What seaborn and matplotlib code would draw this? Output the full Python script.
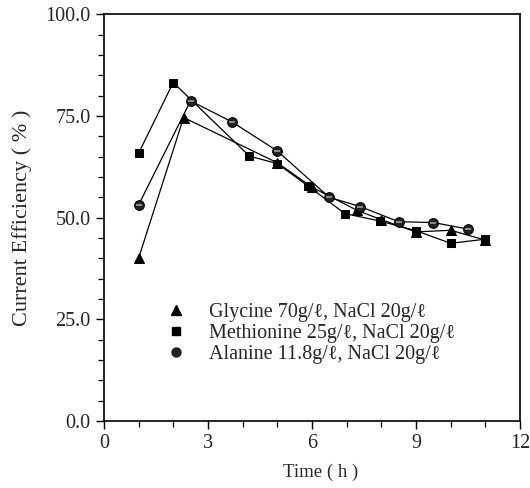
import matplotlib
matplotlib.use("Agg")
import matplotlib.pyplot as plt
from matplotlib.lines import Line2D
from matplotlib.ticker import MultipleLocator, FormatStrFormatter
import pandas as pd
import seaborn as sns

# data
glycine_t = [1.0, 2.3, 5.0, 6.0, 7.3, 8.0, 9.0, 10.0, 11.0]
glycine_ce = [40.0, 74.6, 63.5, 57.5, 51.8, 49.5, 46.5, 46.9, 44.5]

methionine_t = [1.0, 2.0, 4.2, 5.0, 5.9, 6.95, 7.95, 9.0, 10.0, 11.0]
methionine_ce = [65.8, 83.2, 65.1, 63.3, 57.7, 51.0, 49.2, 46.8, 43.7, 44.7]

alanine_t = [1.0, 2.5, 3.7, 5.0, 6.5, 7.4, 8.5, 9.5, 10.5]
alanine_ce = [53.1, 78.7, 73.5, 66.4, 55.0, 52.7, 49.0, 48.8, 47.2]

labels = [
    "Glycine 70g/\u2113, NaCl 20g/\u2113",
    "Methionine 25g/\u2113, NaCl 20g/\u2113",
    "Alanine 11.8g/\u2113, NaCl 20g/\u2113",
]

sns.set_style("ticks")
plt.rcParams["font.family"] = ["Liberation Serif", "DejaVu Serif"]

fig = plt.figure(figsize=(5.3, 4.88), dpi=100)
ax = fig.add_axes([0.196, 0.137, 0.785, 0.834])

gly = pd.DataFrame({"t": glycine_t, "ce": glycine_ce})
met = pd.DataFrame({"t": methionine_t, "ce": methionine_ce})
ala = pd.DataFrame({"t": alanine_t, "ce": alanine_ce})

sns.lineplot(data=gly, x="t", y="ce", ax=ax, color="black", lw=0.9,
             marker="^", markersize=6.5, markeredgecolor="black", sort=False,
             estimator=None)
sns.lineplot(data=met, x="t", y="ce", ax=ax, color="black", lw=0.9,
             marker="s", markersize=6, markeredgecolor="black", sort=False,
             estimator=None)
sns.lineplot(data=ala, x="t", y="ce", ax=ax, color="black", lw=0.9,
             marker="o", markersize=7, markerfacecolor="#222222",
             markeredgecolor="black", sort=False, estimator=None)
# light band across the alanine markers
ax.plot(alanine_t, alanine_ce, ls="none", marker="_", markersize=5,
        markeredgewidth=1.1, color="#aaaaaa")

ax.set_xlim(0, 12)
ax.set_ylim(0, 100)
ax.xaxis.set_major_locator(MultipleLocator(3))
ax.xaxis.set_minor_locator(MultipleLocator(1))
ax.yaxis.set_major_locator(MultipleLocator(25))
ax.yaxis.set_minor_locator(MultipleLocator(5))
ax.yaxis.set_major_formatter(FormatStrFormatter("%.1f"))
ax.tick_params(which="major", length=6, width=1, labelsize=14.5, color="black")
ax.tick_params(which="minor", length=4, width=0.9, color="black")
for s in ax.spines.values():
    s.set_linewidth(1.2)
    s.set_color("black")

ax.set_xlabel("Time ( h )", fontsize=13.5)
ax.xaxis.set_label_coords(0.52, -0.105)
ax.set_ylabel("Current Efficiency ( % )", fontsize=16, labelpad=10)

handles = [
    Line2D([], [], ls="none", marker="^", color="black", markersize=6.5),
    Line2D([], [], ls="none", marker="s", color="black", markersize=6),
    Line2D([], [], ls="none", marker="o", color="#222222", markersize=6.5),
]
ax.legend(handles, labels, loc="center left", bbox_to_anchor=(0.145, 0.215),
          frameon=False, fontsize=14.5, handlelength=1.2, handletextpad=1.0,
          labelspacing=0.1, borderpad=0, borderaxespad=0)

fig.savefig("out.png", dpi=100)
